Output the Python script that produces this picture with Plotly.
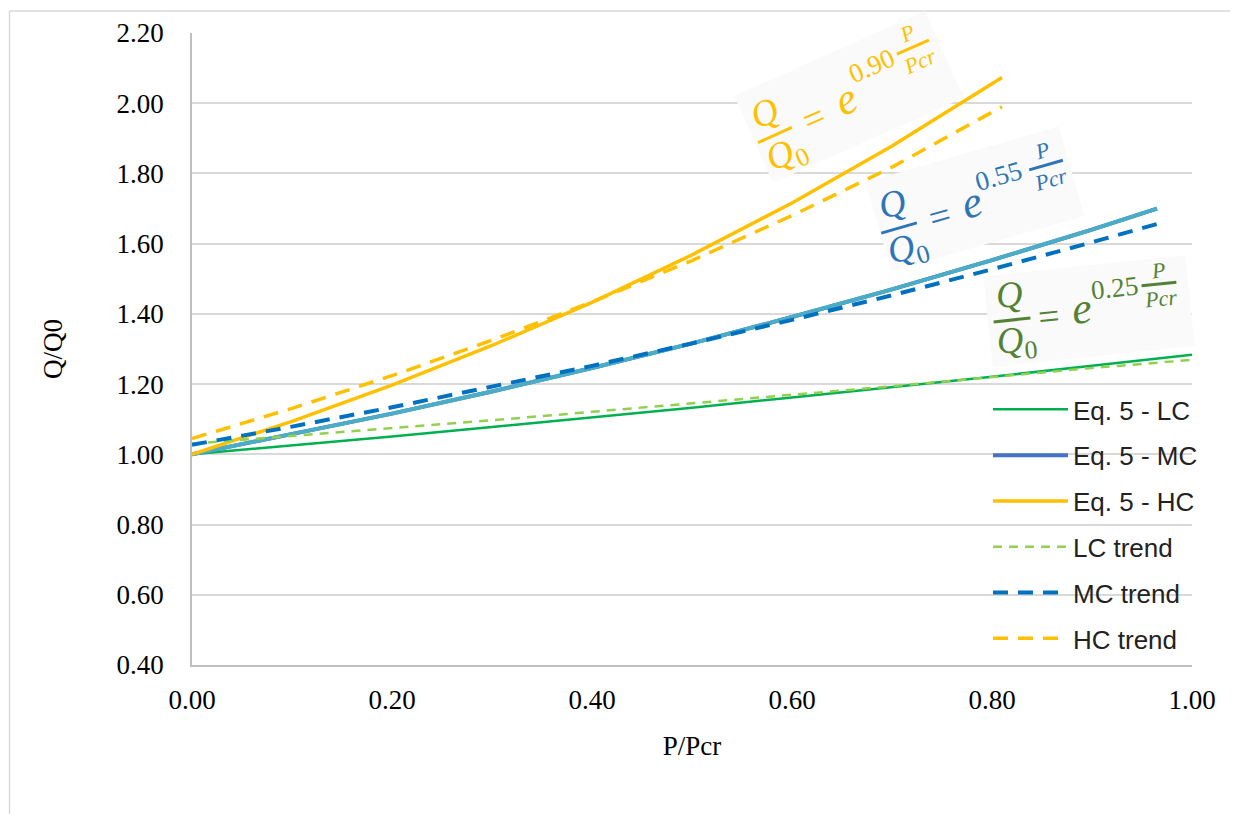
import math
import plotly.graph_objects as go

# ---------------- data ----------------
x_lc = [0.0, 0.1, 0.2, 0.3, 0.4, 0.5, 0.6, 0.7, 0.8, 0.9, 1.0]
eq5_lc = [1.000, 1.025, 1.051, 1.078, 1.105, 1.133, 1.162, 1.191, 1.221, 1.252, 1.284]
lc_trend = [1.030, 1.052, 1.074, 1.097, 1.121, 1.145, 1.169, 1.194, 1.220, 1.246, 1.269]

x_mc = [0.0, 0.1, 0.2, 0.3, 0.4, 0.5, 0.6, 0.7, 0.8, 0.9, 0.965]
eq5_mc = [1.000, 1.057, 1.116, 1.179, 1.246, 1.316, 1.391, 1.470, 1.553, 1.640, 1.700]
mc_trend = [1.027, 1.079, 1.134, 1.192, 1.252, 1.316, 1.383, 1.453, 1.527, 1.604, 1.656]

x_hc = [0.0, 0.1, 0.2, 0.3, 0.4, 0.5, 0.6, 0.7, 0.81]
eq5_hc = [1.000, 1.094, 1.197, 1.310, 1.433, 1.568, 1.716, 1.878, 2.073]
hc_trend = [1.045, 1.131, 1.224, 1.325, 1.434, 1.552, 1.680, 1.818, 1.990]

legend_names = ["Eq. 5 - LC", "Eq. 5 - MC", "Eq. 5 - HC", "LC trend", "MC trend", "HC trend"]
x_ticks = [0.0, 0.2, 0.4, 0.6, 0.8, 1.0]
y_ticks = [0.4, 0.6, 0.8, 1.0, 1.2, 1.4, 1.6, 1.8, 2.0, 2.2]

# formula labels: (coefficient, colour, anchor x, anchor y, angle)
formulas = [
    ("0.90", "#FFC000", 0.583, 1.909, 24),
    ("0.55", "#2E75B6", 0.707, 1.645, 16),
    ("0.25", "#548235", 0.820, 1.383, 6),
]

# ---------------- figure ----------------
fig = go.Figure()

fig.add_trace(go.Scatter(x=x_lc, y=eq5_lc, mode="lines", name=legend_names[0],
                         legendgroup="g1", line=dict(color="#00B050", width=2.5)))
fig.add_trace(go.Scatter(x=x_mc, y=eq5_mc, mode="lines", name=legend_names[1],
                         legendgroup="g2", line=dict(color="#4472C4", width=4)))
fig.add_trace(go.Scatter(x=x_mc, y=eq5_mc, mode="lines", name=legend_names[1],
                         legendgroup="g2", showlegend=False,
                         line=dict(color="#4BACC6", width=4)))
fig.add_trace(go.Scatter(x=x_hc, y=eq5_hc, mode="lines", name=legend_names[2],
                         legendgroup="g3", line=dict(color="#FFC000", width=3.5)))
fig.add_trace(go.Scatter(x=x_lc, y=lc_trend, mode="lines", name=legend_names[3],
                         legendgroup="g4", line=dict(color="#92D050", width=2.5, dash="9px,7px")))
fig.add_trace(go.Scatter(x=x_mc, y=mc_trend, mode="lines", name=legend_names[4],
                         legendgroup="g5", line=dict(color="#0070C0", width=4, dash="15px,10px")))
fig.add_trace(go.Scatter(x=x_hc, y=hc_trend, mode="lines", name=legend_names[5],
                         legendgroup="g6", line=dict(color="#FFC000", width=3.5, dash="15px,10px")))

SERIF = "Liberation Serif"


def piece(ax, ay, theta, u, n, text, size=30, color="#000", **kw):
    t = math.radians(theta)
    xs = u * math.cos(t) - n * math.sin(t)
    ys = u * math.sin(t) + n * math.cos(t)
    fig.add_annotation(x=ax, y=ay, xref="x", yref="y", xshift=xs, yshift=ys,
                       showarrow=False, textangle=-theta, xanchor="center",
                       yanchor="middle", text=text, borderpad=0,
                       font=dict(family=SERIF, size=size, color=color), **kw)


geo = {
    "0.90": dict(box=(83, 5, 208, 94), eq=42, e=79, exp=(116, 24), frac=(162, 39, 24, 9)),
    "0.55": dict(box=(81, 7, 200, 92), eq=42, e=77, exp=(110, 22), frac=(159, 35, 20, 5)),
    "0.25": dict(box=(78, 1, 202, 90), eq=37, e=71, exp=(105, 21), frac=(150, 34, 20, 6)),
}

for coef, col, ax, ay, th in formulas:
    g = geo[coef]
    bu, bn, bw, bh = g["box"]
    piece(ax, ay, th, bu, bn, " ", size=1, width=bw, height=bh, bgcolor="#FAFAFA")
    piece(ax, ay, th, 0, 25, "<i>Q</i>", size=37, color=col)
    piece(ax, ay, th, 0, 0, " ", size=1, width=36, height=2, bgcolor=col)
    piece(ax, ay, th, 3, -23, "<i>Q</i><sub>0</sub>", size=37, color=col)
    piece(ax, ay, th, g["eq"], 0, "=", size=38, color=col)
    piece(ax, ay, th, g["e"], 4, "<i>e</i>", size=44, color=col)
    eu, en = g["exp"]
    piece(ax, ay, th, eu, en, coef, size=27, color=col)
    fu, pn, fbn, cn = g["frac"]
    piece(ax, ay, th, fu, pn, "<i>P</i>", size=22, color=col)
    piece(ax, ay, th, fu, fbn, " ", size=1, width=34, height=1.5, bgcolor=col)
    piece(ax, ay, th, fu, cn, "<i>Pcr</i>", size=22, color=col)

# white panel behind the legend (hides gridlines, keeps the x axis line)
fig.add_shape(type="rect", xref="paper", yref="paper", x0=0.797, x1=1.01, y0=0.004, y1=0.436,
              fillcolor="white", line=dict(width=0), layer="between")

# outer chart-area border (left and top)
fig.add_shape(type="line", xref="paper", yref="paper", x0=-0.1825, x1=-0.1825, y0=1.035, y1=-0.25,
              line=dict(color="#D9D9D9", width=1.5))
fig.add_shape(type="line", xref="paper", yref="paper", x0=-0.1825, x1=1.06, y0=1.035, y1=1.035,
              line=dict(color="#D9D9D9", width=1.5))

fig.update_layout(
    width=1238, height=814,
    template="none",
    paper_bgcolor="white", plot_bgcolor="white",
    margin=dict(l=184, r=54, t=25, b=157, autoexpand=False),
    showlegend=True,
    legend=dict(x=0.796, y=0.4415, xanchor="left", yanchor="top",
                bgcolor="rgba(0,0,0,0)", borderwidth=0,
                font=dict(family="Liberation Sans", size=26, color="#222222"),
                itemwidth=75, tracegroupgap=9, traceorder="grouped"),
    xaxis=dict(range=[0, 1], tickvals=x_ticks, tickformat=".2f", showgrid=False,
               showline=True, linecolor="#BFBFBF", linewidth=1.5, zeroline=False,
               ticks="", ticklabelstandoff=10,
               tickfont=dict(family=SERIF, size=27, color="#000"),
               title=dict(text="P/Pcr", standoff=22, font=dict(family=SERIF, size=27, color="#000"))),
    yaxis=dict(range=[0.4, 2.2], tickvals=y_ticks, tickformat=".2f", showgrid=True,
               gridcolor="#D9D9D9", gridwidth=1.5, showline=True, linecolor="#BFBFBF",
               linewidth=1.5, zeroline=False, ticks="", ticklabelstandoff=21,
               tickfont=dict(family=SERIF, size=27, color="#000"),
               title=dict(text="Q/Q0", standoff=46, font=dict(family=SERIF, size=27, color="#000"))),
)

fig.write_html("out.html")
